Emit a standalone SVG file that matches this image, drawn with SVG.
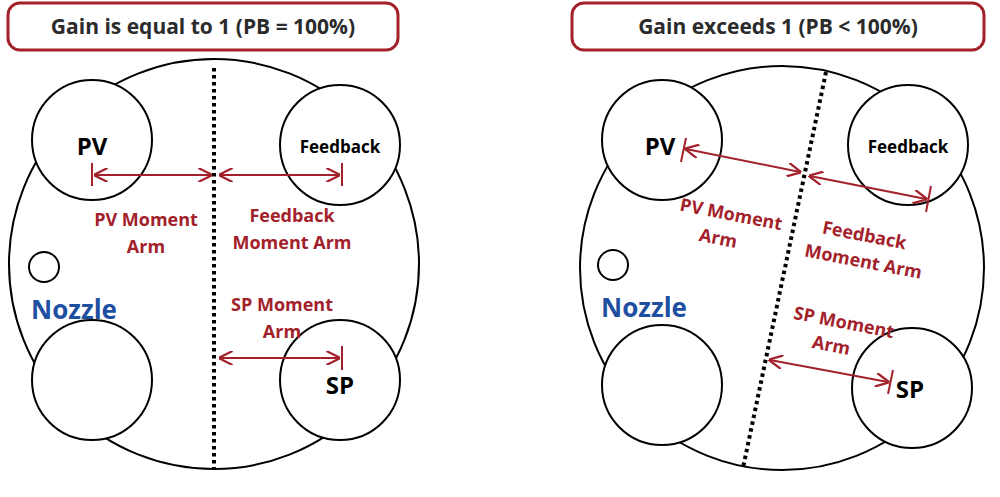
<svg xmlns="http://www.w3.org/2000/svg" width="1000" height="497" viewBox="0 0 1000 497">
<defs>
<marker id="a" viewBox="0 0 10 10" refX="9" refY="5" markerWidth="7" markerHeight="7" orient="auto-start-reverse"><path d="M0,0 L10,5 L0,10" fill="none" stroke="#a3212a" stroke-width="1.6"/></marker>
<style>
.t{fill:#fff;stroke:#a3212a;stroke-width:3}
.tt{font-family:"Open Sans","Liberation Sans",sans-serif;font-weight:bold;font-size:21px;fill:#2b2b2b;text-anchor:middle}
.c{fill:#fff;stroke:#000;stroke-width:2}
.d{stroke:#000;stroke-width:4;stroke-dasharray:3.5 3.5;fill:none}
.ar{stroke:#a3212a;stroke-width:2;fill:none}
.tk{stroke:#a3212a;stroke-width:2}
.l{font-family:"Open Sans","Liberation Sans",sans-serif;font-weight:bold;font-size:18px;fill:#a3212a;text-anchor:middle}
.n{font-family:"Open Sans","Liberation Sans",sans-serif;font-weight:bold;fill:#000;text-anchor:middle}
.nz{font-family:"Open Sans","Liberation Sans",sans-serif;font-weight:bold;font-size:26px;fill:#1e4fa0;text-anchor:middle}
</style>
</defs>
<rect width="1000" height="497" fill="#fff"/>
<g id="title-left"><rect class="t" x="8" y="3" width="390" height="47" rx="12"/><text class="tt" x="203" y="34">Gain is equal to 1 (PB = 100%)</text></g>
<g id="title-right"><rect class="t" x="572" y="3" width="412" height="47" rx="12"/><text class="tt" x="778" y="34">Gain exceeds 1 (PB &lt; 100%)</text></g>
<g id="body-left"><circle class="c" cx="214" cy="264" r="205"/></g>
<g id="body-right"><circle class="c" cx="782" cy="268" r="202"/></g>
<g id="pv-left"><circle class="c" cx="92" cy="140" r="60"/><text class="n" x="92" y="155" font-size="24">PV</text></g>
<g id="fb-left"><circle class="c" cx="340" cy="145" r="60"/><text class="n" x="340" y="153" font-size="17">Feedback</text></g>
<g id="sp-left"><circle class="c" cx="340" cy="380" r="60"/><text class="n" x="340" y="394" font-size="24">SP</text></g>
<g id="bl-left"><circle class="c" cx="92" cy="380" r="60"/></g>
<g id="noz-left"><circle class="c" cx="44" cy="267" r="15"/><text class="nz" x="74" y="319">Nozzle</text></g>
<g id="pv-right"><circle class="c" cx="662" cy="140" r="60"/><text class="n" x="660" y="155" font-size="24">PV</text></g>
<g id="fb-right"><circle class="c" cx="908" cy="145" r="60"/><text class="n" x="908" y="153" font-size="17">Feedback</text></g>
<g id="sp-right"><circle class="c" cx="912" cy="388" r="60"/><text class="n" x="910" y="398" font-size="24">SP</text></g>
<g id="bl-right"><circle class="c" cx="662" cy="385" r="60"/></g>
<g id="noz-right"><circle class="c" cx="613" cy="265" r="15"/><text class="nz" x="644" y="317">Nozzle</text></g>
<g id="connectors">
<line class="d" x1="214" y1="68" x2="214" y2="470"/>
<line class="d" x1="826" y1="72" x2="743" y2="468"/>
<line class="tk" x1="92" y1="163" x2="92" y2="186"/>
<line class="ar" x1="95" y1="175" x2="211" y2="175" marker-start="url(#a)" marker-end="url(#a)"/>
<line class="tk" x1="342" y1="163" x2="342" y2="186"/>
<line class="ar" x1="220" y1="175" x2="339" y2="175" marker-start="url(#a)" marker-end="url(#a)"/>
<line class="tk" x1="342" y1="346" x2="342" y2="370"/>
<line class="ar" x1="220" y1="358" x2="339" y2="358" marker-start="url(#a)" marker-end="url(#a)"/>
<line class="tk" x1="686" y1="138" x2="681" y2="162"/>
<line class="ar" x1="686" y1="149" x2="800" y2="172" marker-start="url(#a)" marker-end="url(#a)"/>
<line class="tk" x1="931" y1="186" x2="926" y2="212"/>
<line class="ar" x1="810" y1="176" x2="926" y2="199" marker-start="url(#a)" marker-end="url(#a)"/>
<line class="tk" x1="893" y1="370" x2="888" y2="394"/>
<line class="ar" x1="770" y1="360" x2="888" y2="382" marker-start="url(#a)" marker-end="url(#a)"/>
</g>
<g id="labels">
<text class="l" x="146" y="226">PV Moment</text><text class="l" x="146" y="253">Arm</text>
<text class="l" x="292" y="222">Feedback</text><text class="l" x="292" y="249">Moment Arm</text>
<text class="l" x="282" y="311">SP Moment</text><text class="l" x="282" y="338">Arm</text>
<g transform="rotate(11 728 220)"><text class="l" x="730" y="220">PV Moment</text><text class="l" x="722" y="246">Arm</text></g>
<g transform="rotate(11 866 248)"><text class="l" x="862" y="242">Feedback</text><text class="l" x="866" y="268">Moment Arm</text></g>
<g transform="rotate(11 840 332)"><text class="l" x="842" y="328">SP Moment</text><text class="l" x="834" y="353">Arm</text></g>
</g>
</svg>
